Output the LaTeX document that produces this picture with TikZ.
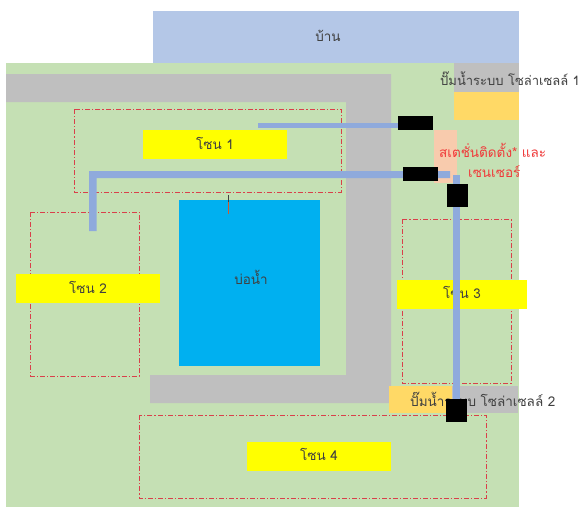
\documentclass[tikz,border=0pt]{standalone}
\usepackage{fontspec}
\setmainfont{Liberation Sans}
\newfontfamily\thaifont[Script=Thai]{Loma}
\definecolor{land}{HTML}{C5E0B4}
\definecolor{house}{HTML}{B4C7E7}
\definecolor{road}{HTML}{BFBFBF}
\definecolor{pipe}{HTML}{8FAADC}
\definecolor{solar}{HTML}{FFD966}
\definecolor{peach}{HTML}{F8CBAD}
\definecolor{pond}{HTML}{00B0F0}
\definecolor{zoneline}{HTML}{D9404A}
\definecolor{ink}{HTML}{404040}
\definecolor{zoneyellow}{HTML}{FFFF00}
\definecolor{redink}{HTML}{F03A3A}
\tikzset{
  x=1pt,y=-1pt,
  txt/.style={font=\thaifont\fontsize{13.5}{15}\selectfont,text=ink,inner sep=0pt,anchor=center},
  redtxt/.style={font=\thaifont\fontsize{13.5}{15}\selectfont,text=redink,inner sep=0pt,anchor=center},
  zonebox/.style={draw=zoneline,line width=1pt,dash pattern=on 5pt off 2pt on 1.2pt off 2pt},
  zonelabel/.style={fill=zoneyellow},
  blackbox/.style={fill=black},
  pipeline/.style={fill=pipe}
}
\begin{document}
\begin{tikzpicture}
\useasboundingbox (0,0) rectangle (583,507);
\fill[white] (0,0) rectangle (583,507);
\fill[land] (6,63) rectangle (519,507);
\fill[house] (153,11) rectangle (519,63);
% roads
\fill[road] (6,74) -- (391,74) -- (391,403) -- (150,403) -- (150,375) -- (346,375) -- (346,102) -- (6,102) -- cycle;
\fill[road] (454,63) rectangle (519,92);
\fill[solar] (454,92) rectangle (519,120);
\fill[peach] (434,130) rectangle (457,183);
\fill[solar] (389,386) rectangle (452,413);
\fill[road] (452,386) rectangle (518,413);
% pond
\fill[pond] (179,200) rectangle (320,366);
\draw[ink,line width=0.7pt] (228.5,195) -- (228.5,202);
\draw[brown!70!red,line width=0.7pt] (228.5,202) -- (228.5,214);
% zones
\draw[zonebox] (74.5,109) rectangle (341,192);
\draw[zonebox] (30.5,212) rectangle (139,376);
\draw[zonebox] (402,219) rectangle (511,383);
\draw[zonebox] (139,415) rectangle (486,498);
\fill[zonelabel] (143,130) rectangle (287,159);
\fill[zonelabel] (16,274) rectangle (160,303);
\fill[zonelabel] (397,280) rectangle (527,309);
\fill[zonelabel] (247,442) rectangle (391,471);
% texts
\node[txt] (home) at (328,36) {บ้าน};
\node[txt] (pondtxt) at (251,277) {บ่อน้ำ};
\node[txt] (z1) at (215,143) {โซน 1};
\node[txt] (z2) at (88,287) {โซน 2};
\node[txt] (z3) at (462,292) {โซน 3};
\node[txt] (z4) at (319,454) {โซน 4};
\node[txt,anchor=west,font=\thaifont\fontsize{13}{15}\selectfont] (s1) at (440,79) {ปั๊มน้ำระบบ โซล่าเซลล์ 1};
\node[txt,anchor=west] (s2) at (410,399) {ปั๊มน้ำระบบ โซล่าเซลล์ 2};
\node[redtxt,anchor=west] (st1) at (439,150) {สเตชั่นติดตั้ง* และ};
\node[redtxt,anchor=west] (st2) at (468,172) {เซนเซอร์};
% pipes
\fill[pipeline] (258,123) rectangle (433,128);
\fill[pipeline] (450,171) -- (89,171) -- (89,231) -- (96.5,231) -- (96.5,178) -- (450,178) -- cycle;
\fill[pipeline] (453,175) rectangle (460,399);
% valves
\fill[blackbox] (398,116) rectangle (433,130);
\fill[blackbox] (403,167) rectangle (438,181);
\fill[blackbox] (447,184) rectangle (468,207);
\fill[blackbox] (446,399) rectangle (467,422);
\end{tikzpicture}
\end{document}
